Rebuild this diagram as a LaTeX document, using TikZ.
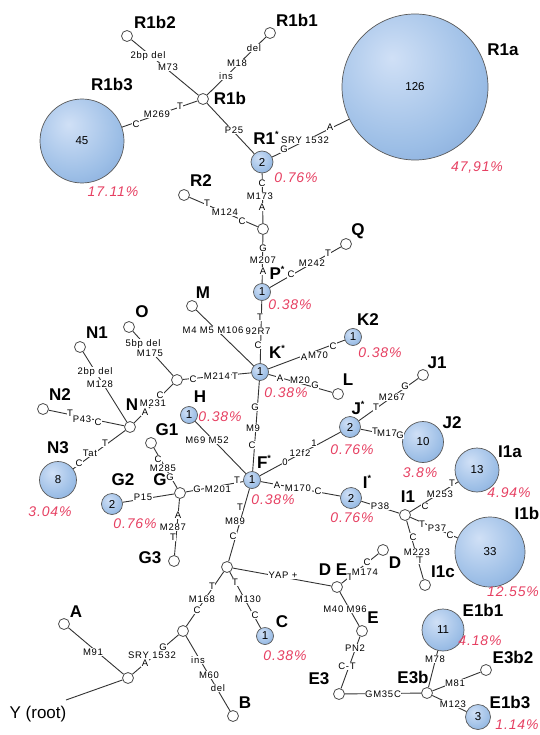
\documentclass[tikz,border=0pt]{standalone}
\usepackage{fontspec}
\setmainfont{Liberation Sans}
\newfontfamily\mutfont[LetterSpace=8]{Liberation Sans}
\newfontfamily\pctfont[LetterSpace=6]{Liberation Sans}
\definecolor{pct}{RGB}{230,64,98}
\definecolor{ballin}{RGB}{208,224,246}
\definecolor{ballmid}{RGB}{156,190,230}
\definecolor{ballout}{RGB}{102,142,202}
\pgfdeclareradialshading{hapball}{\pgfpoint{-8bp}{10bp}}{color(0bp)=(ballin); color(28bp)=(ballmid); color(58bp)=(ballout); color(100bp)=(ballout)}
\newcommand\astx{\raisebox{0.45em}{\fontsize{9}{9}\selectfont *}}
\begin{document}
\begin{tikzpicture}[x=1pt,y=-1pt,
 junc/.style={circle,draw=black!70,fill=white,minimum size=11pt,inner sep=0pt,line width=0.8pt},
 hap/.style={circle,draw=black!65,line width=0.7pt,shading=hapball,inner sep=0pt,font=\fontsize{11.5}{11.5}\selectfont},
 lab/.style={font=\bfseries\fontsize{17}{17}\selectfont,inner sep=0pt},
 mut/.style={font=\mutfont\fontsize{9.5}{9.5}\selectfont,fill=white,inner sep=0.5pt},
 pc/.style={font=\pctfont\itshape\fontsize{14}{14}\selectfont,text=pct,inner sep=0pt},
 ln/.style={draw=black!80,line width=0.9pt}]
\useasboundingbox (0,0) rectangle (539,735);
% nodes
\node[junc] (r1b2) at (127,36) {};
\node[junc] (r1b1) at (270,33) {};
\node[junc] (r1b) at (203,99) {};
\node[hap,minimum size=84pt] (r1b3) at (82,141) {45};
\node[hap,minimum size=22pt] (r1) at (262,162) {2};
\node[hap,minimum size=146pt] (r1a) at (415,87) {126};
\node[junc] (m1) at (263,229) {};
\node[junc] (r2) at (184,195) {};
\node[hap,minimum size=17pt] (p) at (262,292) {1};
\node[junc] (q) at (346,244) {};
\node[hap,minimum size=17pt] (k) at (260,372) {1};
\node[junc] (m) at (192,306) {};
\node[hap,minimum size=17pt] (k2) at (353,337) {1};
\node[junc] (l) at (338,394) {};
\node[junc] (oj) at (177,380) {};
\node[junc] (o) at (129,327) {};
\node[junc] (n1) at (80,347) {};
\node[junc] (n) at (130,427) {};
\node[junc] (n2) at (43,409) {};
\node[hap,minimum size=37pt] (n3) at (58,480) {8};
\node[hap,minimum size=17pt] (h) at (189,415) {1};
\node[hap,minimum size=17pt] (f) at (252,480) {1};
\node[junc] (g1) at (151,443) {};
\node[junc] (gj) at (180,493) {};
\node[hap,minimum size=21pt] (g2) at (112,504) {2};
\node[junc] (g3) at (174,561) {};
\node[hap,minimum size=21pt] (j) at (350,427) {2};
\node[junc] (j1) at (423,375) {};
\node[hap,minimum size=41pt] (j2) at (423,442) {10};
\node[hap,minimum size=21pt] (i) at (351,498) {2};
\node[junc] (i1) at (405,515) {};
\node[hap,minimum size=44pt] (i1a) at (477,470) {13};
\node[hap,minimum size=70pt] (i1b) at (490,552) {33};
\node[junc] (i1c) at (425,585) {};
\node[junc] (cj) at (227,567) {};
\node[hap,minimum size=17pt] (c) at (265,636) {1};
\node[junc] (bj) at (183,631) {};
\node[junc] (b) at (233,716) {};
\node[junc] (yj) at (128,678) {};
\node[junc] (a) at (64,624) {};
\coordinate (yend) at (66,700);
\node[junc] (dej) at (337,587) {};
\node[junc] (d) at (383,550) {};
\node[junc] (e) at (362,631) {};
\node[junc] (e3) at (339,694) {};
\node[junc] (e3b) at (427,693) {};
\node[hap,minimum size=42pt] (e1b1) at (443,630) {11};
\node[junc] (e3b2) at (486,670) {};
\node[hap,minimum size=25pt] (e1b3) at (478,717) {3};
% connectors
\path[ln] (r1b) -- (r1b2) (r1b) -- (r1b1) (r1b) -- (r1b3) (r1b) -- (r1)
 (r1) -- (r1a) (r1) -- (m1) (r2) -- (m1) (m1) -- (p) (p) -- (q) (p) -- (k)
 (k) -- (m) (k) -- (k2) (k) -- (l) (k) -- (oj) (oj) -- (o) (oj) -- (n)
 (n) -- (n1) (n) -- (n2) (n) -- (n3) (k) -- (f) (f) -- (h) (f) -- (gj)
 (gj) -- (g1) (gj) -- (g2) (gj) -- (g3) (f) -- (j) (j) -- (j1) (j) -- (j2)
 (f) -- (i) (i) -- (i1) (i1) -- (i1a) (i1) -- (i1b) (i1) -- (i1c)
 (f) -- (cj) (cj) -- (c) (cj) -- (bj) (cj) -- (dej) (bj) -- (b) (bj) -- (yj)
 (yj) -- (a) (yj) -- (yend) (dej) -- (d) (dej) -- (e) (e) -- (e3) (e3) -- (e3b)
 (e3b) -- (e1b1) (e3b) -- (e3b2) (e3b) -- (e1b3);
% mutation labels
\foreach \p/\t in {{(148,56)}/2bp del,{(168,67)}/M73,{(254,48)}/del,{(237,63)}/M18,{(226,76)}/ins,
 {(136,124)}/C,{(157,114)}/M269,{(180,106)}/T,{(234,130)}/P25,
 {(284,149)}/G,{(305,140)}/SRY 1532,{(330,127)}/A,
 {(262,183)}/C,{(260,196)}/M173,{(262,207)}/A,
 {(207,203)}/T,{(225,212)}/M124,{(242,221)}/C,
 {(263,248)}/G,{(263,260)}/M207,{(263,271)}/A,
 {(291,274)}/C,{(312,263)}/M242,{(328,253)}/T,
 {(260,317)}/T,{(258,331)}/92R7,{(258,345)}/C,
 {(213,330)}/M4 M5 M106,
 {(304,357)}/A,{(318,355)}/M70,{(333,346)}/C,
 {(280,378)}/A,{(300,380)}/M20,{(315,385)}/G,
 {(193,379)}/C,{(217,376)}/M214,{(235,376)}/T,
 {(143,344)}/5bp del,{(150,353)}/M175,
 {(95,372)}/2bp del,{(100,384)}/M128,
 {(160,395)}/C,{(153,403)}/M231,{(145,412)}/A,
 {(70,413)}/T,{(82,419)}/P43,{(98,422)}/C,
 {(79,463)}/C,{(90,453)}/Tat,{(105,443)}/T,
 {(207,440)}/M69 M52,
 {(255,407)}/G,{(253,428)}/M9,{(252,445)}/C,
 {(158,459)}/C,{(163,468)}/M285,{(170,477)}/G,
 {(197,489)}/G,{(218,489)}/M201,{(237,480)}/T,
 {(143,497)}/P15,
 {(178,515)}/A,{(173,527)}/M287,{(173,537)}/T,
 {(285,462)}/0,{(300,453)}/12f2,{(314,443)}/1,
 {(277,485)}/A,{(298,488)}/M170,{(318,491)}/C,
 {(376,407)}/T,{(392,397)}/M267,{(405,386)}/G,
 {(375,431)}/T,{(387,433)}/M17,{(400,435)}/G,
 {(380,506)}/P38,
 {(425,506)}/C,{(440,494)}/M253,{(452,483)}/T,
 {(422,524)}/T,{(437,528)}/P37,{(450,535)}/C,
 {(413,537)}/C,{(417,552)}/M223,{(420,560)}/T,
 {(240,507)}/T,{(235,521)}/M89,{(233,536)}/C,
 {(212,586)}/T,{(202,599)}/M168,{(197,610)}/C,
 {(235,582)}/T,{(248,599)}/M130,{(255,615)}/C,
 {(163,647)}/G,{(152,655)}/SRY 1532,{(145,663)}/A,
 {(198,660)}/ins,{(209,675)}/M60,{(218,688)}/del,
 {(93,652)}/M91,
 {(283,575)}/YAP +,
 {(350,577)}/T,{(365,572)}/M174,{(367,562)}/C,
 {(345,609)}/M40 M96,
 {(355,648)}/PN2,{(347,666)}/C-T,
 {(383,694)}/GM35C,
 {(435,659)}/M78,{(455,683)}/M81,{(453,704)}/M123}
 \node[mut] at \p {\t};
% haplogroup labels
\node[lab] (lr1b2) at (155,22) {R1b2};
\node[lab] (lr1b1) at (297,20) {R1b1};
\node[lab] (lr1b) at (230,98) {R1b};
\node[lab] (lr1b3) at (112,84) {R1b3};
\node[lab] (lr1) at (266,138) {R1\astx};
\node[lab] (lr1a) at (503,50) {R1a};
\node[lab] (lr2) at (201,181) {R2};
\node[lab] (lp) at (277,273) {P\astx};
\node[lab] (lq) at (358,231) {Q};
\node[lab] (lm) at (203,293) {M};
\node[lab] (lk) at (277,352) {K\astx};
\node[lab] (lk2) at (368,320) {K2};
\node[lab] (ll) at (348,380) {L};
\node[lab] (lo) at (142,312) {O};
\node[lab] (ln1) at (97,333) {N1};
\node[lab] (ln2) at (60,395) {N2};
\node[lab] (ln) at (132,405) {N};
\node[lab] (ln3) at (58,448) {N3};
\node[lab] (lh) at (200,397) {H};
\node[lab] (lg1) at (167,430) {G1};
\node[lab] (lg) at (160,480) {G};
\node[lab] (lg2) at (123,480) {G2};
\node[lab] (lg3) at (150,558) {G3};
\node[lab] (lf) at (264,462) {F\astx};
\node[lab] (lj) at (358,408) {J\astx};
\node[lab] (lj1) at (437,363) {J1};
\node[lab] (lj2) at (452,423) {J2};
\node[lab] (li) at (367,482) {I\astx};
\node[lab] (li1) at (408,497) {I1};
\node[lab] (li1a) at (510,452) {I1a};
\node[lab] (li1b) at (527,513) {I1b};
\node[lab] (li1c) at (443,572) {I1c};
\node[lab] (ld) at (395,563) {D};
\node[lab] (lde) at (333,570) {D E};
\node[lab] (le) at (373,618) {E};
\node[lab] (le3) at (319,679) {E3};
\node[lab] (le3b) at (413,677) {E3b};
\node[lab] (le1b1) at (483,610) {E1b1};
\node[lab] (le3b2) at (513,657) {E3b2};
\node[lab] (le1b3) at (510,702) {E1b3};
\node[lab] (lc) at (282,622) {C};
\node[lab] (la) at (76,612) {A};
\node[lab] (lb) at (245,703) {B};
\node[lab,font=\fontsize{17}{17}\selectfont] (ly) at (38,714) {Y (root)};
% percentages
\node[pc] at (113,192) {17.11\%};
\node[pc] at (296,178) {0.76\%};
\node[pc] at (477,168) {47,91\%};
\node[pc] at (290,305) {0.38\%};
\node[pc] at (286,393) {0.38\%};
\node[pc] at (380,353) {0.38\%};
\node[pc] at (50,512) {3.04\%};
\node[pc] at (220,417) {0.38\%};
\node[pc] at (135,524) {0.76\%};
\node[pc] at (273,500) {0.38\%};
\node[pc] at (352,450) {0.76\%};
\node[pc] at (420,473) {3.8\%};
\node[pc] at (509,493) {4.94\%};
\node[pc] at (352,518) {0.76\%};
\node[pc] at (513,592) {12.55\%};
\node[pc] at (480,641) {4.18\%};
\node[pc] at (517,725) {1.14\%};
\node[pc] at (285,656) {0.38\%};
\end{tikzpicture}
\end{document}
